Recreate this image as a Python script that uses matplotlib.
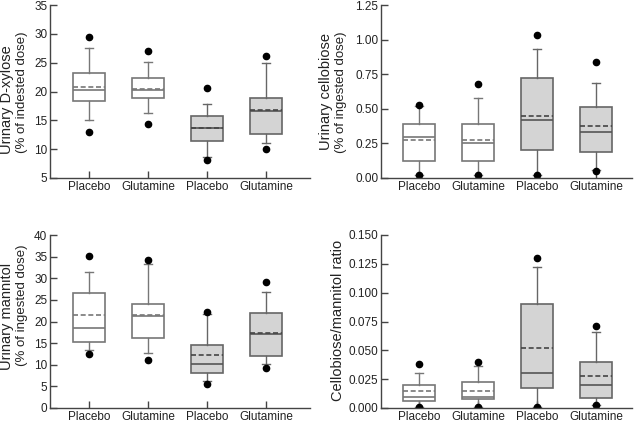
import matplotlib
matplotlib.use("Agg")
import matplotlib.pyplot as plt

plt.rcParams['font.family'] = ['Liberation Sans', 'DejaVu Sans']

groups = ["Placebo", "Glutamine", "Placebo", "Glutamine"]
shaded = [False, False, True, True]

# per group: whisker low, q1, median, mean, q3, whisker high, outlier high, outlier low
xyl_lo = [15.0, 16.2, 8.6, 11.0]
xyl_q1 = [18.3, 18.9, 11.5, 12.7]
xyl_med = [20.3, 20.3, 13.7, 16.7]
xyl_mean = [20.7, 20.5, 13.7, 16.8]
xyl_q3 = [23.2, 22.3, 15.7, 18.8]
xyl_hi = [27.6, 25.1, 17.8, 24.9]
xyl_out_hi = [29.5, 27.1, 20.6, 26.1]
xyl_out_lo = [13.0, 14.4, 8.2, 10.1]

cel_lo = [0.02, 0.02, 0.02, 0.06]
cel_q1 = [0.125, 0.125, 0.20, 0.19]
cel_med = [0.295, 0.25, 0.42, 0.33]
cel_mean = [0.275, 0.275, 0.45, 0.375]
cel_q3 = [0.39, 0.39, 0.72, 0.51]
cel_hi = [0.52, 0.58, 0.93, 0.69]
cel_out_hi = [0.53, 0.68, 1.03, 0.84]
cel_out_lo = [0.025, 0.025, 0.025, 0.05]

man_lo = [13.4, 12.7, 6.2, 10.2]
man_q1 = [15.2, 16.3, 8.0, 12.0]
man_med = [18.6, 21.3, 10.1, 17.2]
man_mean = [21.4, 21.4, 12.2, 17.3]
man_q3 = [26.5, 24.0, 14.5, 21.9]
man_hi = [31.4, 33.2, 21.8, 26.9]
man_out_hi = [35.2, 34.2, 22.3, 29.2]
man_out_lo = [12.4, 11.2, 5.6, 9.2]

rat_lo = [0.0005, 0.0005, 0.0005, 0.003]
rat_q1 = [0.006, 0.008, 0.0175, 0.009]
rat_med = [0.0095, 0.0095, 0.030, 0.020]
rat_mean = [0.015, 0.015, 0.052, 0.0275]
rat_q3 = [0.020, 0.0225, 0.090, 0.040]
rat_hi = [0.030, 0.036, 0.122, 0.066]
rat_out_hi = [0.038, 0.040, 0.130, 0.071]
rat_out_lo = [0.0005, 0.0005, 0.0005, 0.0025]


def make_stats(lo, q1, med, mean, q3, hi, ohi, olo):
    stats = []
    for i in range(len(lo)):
        stats.append(dict(whislo=lo[i], q1=q1[i], med=med[i], mean=mean[i],
                          q3=q3[i], whishi=hi[i], fliers=[ohi[i], olo[i]]))
    return stats


# stats, y-label lines, ylim, yticks, tick format, axes box (left, bottom, right) in px,
# label centres (x1, y1, x2, y2) in px
panels = [
    (make_stats(xyl_lo, xyl_q1, xyl_med, xyl_mean, xyl_q3, xyl_hi, xyl_out_hi, xyl_out_lo),
     ["Urinary D-xylose", "(% of indested dose)"], (5, 35), [5, 10, 15, 20, 25, 30, 35], "%d",
     (50, 178, 310), (7, 100, 22, 92)),
    (make_stats(cel_lo, cel_q1, cel_med, cel_mean, cel_q3, cel_hi, cel_out_hi, cel_out_lo),
     ["Urinary cellobiose", "(% of ingested dose)"], (0, 1.25), [0, 0.25, 0.5, 0.75, 1.0, 1.25], "%.2f",
     (381, 178, 632), (326, 92, 341, 92)),
    (make_stats(man_lo, man_q1, man_med, man_mean, man_q3, man_hi, man_out_hi, man_out_lo),
     ["Urinary mannitol", "(% of ingested dose)"], (0, 40), [0, 5, 10, 15, 20, 25, 30, 35, 40], "%d",
     (50, 408, 310), (7, 316, 22, 305)),
    (make_stats(rat_lo, rat_q1, rat_med, rat_mean, rat_q3, rat_hi, rat_out_hi, rat_out_lo),
     ["Cellobiose/mannitol ratio"], (0, 0.15), [0, 0.025, 0.05, 0.075, 0.1, 0.125, 0.15], "%.3f",
     (381, 408, 632), (338, 320, None, None)),
]

W, H = 640, 422
fig = plt.figure(figsize=(6.4, 4.22), dpi=100)

for stats, ylab, ylim, yticks, fmt, (left, bottom, right), (lx1, ly1, lx2, ly2) in panels:
    ax_h = 173
    ax = fig.add_axes([left / W, (H - bottom) / H, (right - left) / W, ax_h / H])
    first_pos = 89 if left == 50 else 419
    x0 = 1 - (first_pos - left) / 59.0
    x1 = 1 + (right - first_pos) / 59.0

    for i, st in enumerate(stats):
        if shaded[i]:
            face, edge, medc, meanc = "#d4d4d4", "#666666", "#555555", "#444444"
        else:
            face, edge, medc, meanc = "white", "#777777", "#777777", "#777777"
        ax.bxp([st], positions=[i + 1], widths=0.55, patch_artist=True,
               showmeans=True, meanline=True, showfliers=True,
               boxprops=dict(facecolor=face, edgecolor=edge, linewidth=1.2),
               whiskerprops=dict(color=edge, linewidth=1.0),
               capprops=dict(color=edge, linewidth=1.0),
               capwidths=0.15,
               medianprops=dict(color=medc, linewidth=1.2),
               meanprops=dict(color=meanc, linewidth=1.2, linestyle=(0, (3, 1.6))),
               flierprops=dict(marker="o", markerfacecolor="black",
                               markeredgecolor="black", markersize=4.5))

    ax.set_xlim(x0, x1)
    ax.set_ylim(*ylim)
    ax.set_yticks(yticks)
    ax.set_yticklabels([fmt % v for v in yticks])
    ax.set_xticks([1, 2, 3, 4])
    ax.set_xticklabels(groups)
    ax.spines["top"].set_visible(False)
    ax.spines["right"].set_visible(False)
    for s in ["left", "bottom"]:
        ax.spines[s].set_color("#444444")
        ax.spines[s].set_linewidth(1.0)
    ax.tick_params(axis="both", direction="in", length=5, width=1.0,
                   colors="#444444", labelsize=8.5, labelcolor="#222222", pad=2)

    if len(ylab) == 2:
        fig.text(lx1 / W, 1 - ly1 / H, ylab[0], rotation=90, ha="center", va="center",
                 fontsize=10.5, color="#222222")
        fig.text(lx2 / W, 1 - ly2 / H, ylab[1], rotation=90, ha="center", va="center",
                 fontsize=9.5, color="#222222")
    else:
        fig.text(lx1 / W, 1 - ly1 / H, ylab[0], rotation=90, ha="center", va="center",
                 fontsize=10.5, color="#222222")

fig.savefig("out.png", dpi=100)
